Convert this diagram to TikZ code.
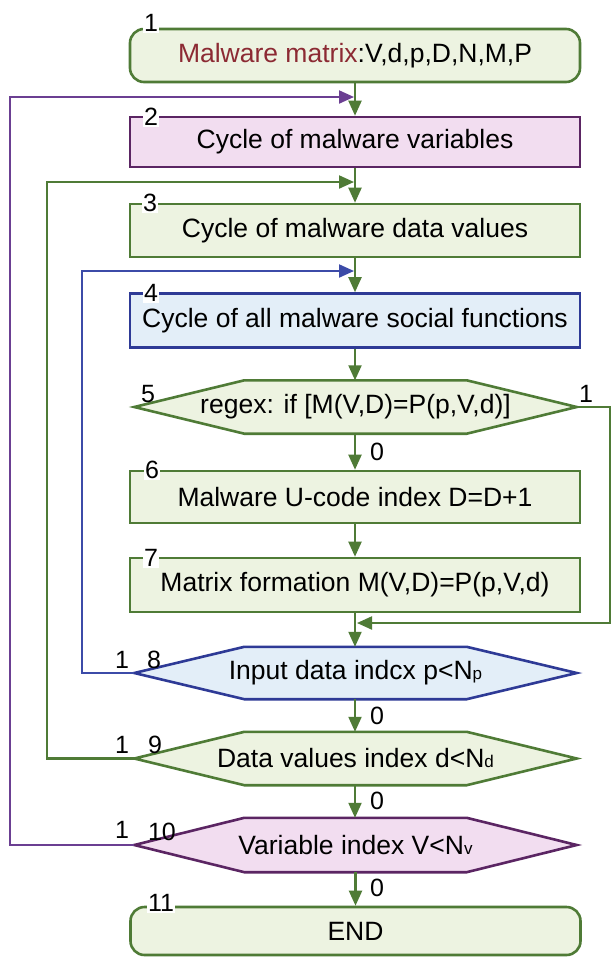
\documentclass[tikz,border=0pt]{standalone}
\usepackage{fontspec}
\setmainfont{Liberation Sans}
\usetikzlibrary{arrows.meta,calc,backgrounds}
\definecolor{gline}{HTML}{4F7B36}
\definecolor{gfill}{HTML}{EDF3E1}
\definecolor{pline}{HTML}{5B2563}
\definecolor{pfill}{HTML}{F2DDF0}
\definecolor{bline}{HTML}{2E3A96}
\definecolor{bfill}{HTML}{E3EEF8}
\definecolor{ploop}{HTML}{6B3F92}
\definecolor{bloop}{HTML}{3C4BA8}
\definecolor{mred}{HTML}{8C2A33}
\newcommand\subsm[1]{{\fontsize{17}{17}\selectfont #1}}
\begin{document}
\begin{tikzpicture}[x=1pt,y=-1pt,
  font=\fontsize{26.5}{30}\selectfont,
  box/.style={rectangle, minimum width=450pt, inner sep=0pt, line width=2.6pt},
  gbox/.style={box, draw=gline, fill=gfill},
  pbox/.style={box, draw=pline, fill=pfill},
  bbox/.style={box, draw=bline, fill=bfill},
  hexn/.style={rectangle, minimum width=442pt, inner sep=0pt},
  hexp/.style={insert path={(#1.west) -- ($(#1.north west)+(110,0)$) -- ($(#1.north east)+(-110,0)$) -- (#1.east) -- ($(#1.south east)+(-110,0)$) -- ($(#1.south west)+(110,0)$) -- cycle}},
  num/.style={font=\fontsize{25}{26}\selectfont, fill=white, inner sep=1pt},
  numh/.style={font=\fontsize{25}{26}\selectfont, inner sep=0pt},
  arr/.style={line width=2.1pt, -{Triangle[length=15pt,width=13pt]}},
  garr/.style={arr, draw=gline},
  parr/.style={arr, draw=ploop},
  barr/.style={arr, draw=bloop}
]
\useasboundingbox (0,0) rectangle (614,958);

% nodes
\node[gbox, rounded corners=14pt, minimum height=53pt] (n1) at (355,55.5) {\textcolor{mred}{Malware matrix}:V,d,p,D,N,M,P};
\node[pbox, minimum height=50pt] (n2) at (355,142) {Cycle of malware variables};
\node[gbox, minimum height=53pt] (n3) at (355,230.5) {Cycle of malware data values};
\node[bbox, minimum height=54pt] (n4) at (355,320.5) {Cycle of all malware social functions};
\node[hexn, minimum height=53pt] (h5) at (355.5,407) {regex: if [M(V,D)=P(p,V,d)]};
\node[gbox, minimum height=52pt] (n6) at (355,497) {Malware U-code index D=D+1};
\node[gbox, minimum height=54pt] (n7) at (355,585) {Matrix formation M(V,D)=P(p,V,d)};
\node[hexn, minimum height=52pt] (h8) at (355.5,673) {Input data indcx p<N\subsm{p}};
\node[hexn, minimum height=53pt] (h9) at (355.5,758.5) {Data values index d<N\subsm{d}};
\node[hexn, minimum height=54pt] (h10) at (355.5,845) {Variable index V<N\subsm{v}};
\node[gbox, rounded corners=14pt, minimum height=48pt] (n11) at (355.5,931) {END};

\begin{scope}[on background layer]
  \fill[white] (0,0) rectangle (614,958);
  \path[draw=gline, fill=gfill, line width=2.6pt, hexp=h5];
  \path[draw=bline, fill=bfill, line width=2.6pt, hexp=h8];
  \path[draw=gline, fill=gfill, line width=2.6pt, hexp=h9];
  \path[draw=pline, fill=pfill, line width=2.6pt, hexp=h10];
\end{scope}

% number labels
\node[num] (l1) at (151,23) {1};
\node[num] (l2) at (151,117) {2};
\node[num] (l3) at (150,203) {3};
\node[num] (l4) at (151,293) {4};
\node[numh] (l5) at (148,394) {5};
\node[numh] (l5r) at (586,394) {1};
\node[num] (l6) at (152,470) {6};
\node[num] (l7) at (151,558) {7};
\node[numh] (l8) at (154,660) {8};
\node[numh] (l8a) at (122,660) {1};
\node[numh] (l9) at (155,745) {9};
\node[numh] (l9a) at (122,745) {1};
\node[numh] (l10) at (162,832) {10};
\node[numh] (l10a) at (122,830) {1};
\node[num] (l11) at (161,903) {11};

% zero labels
\node[numh] (z5) at (377,452) {0};
\node[numh] (z8) at (377,716) {0};
\node[numh] (z9) at (377,801) {0};
\node[numh] (z10) at (377,888) {0};

% coordinates
\coordinate (cp) at (10,97);
\coordinate (tp) at (354,97);
\coordinate (cg) at (47,182);
\coordinate (tg) at (354,182);
\coordinate (cb) at (82,271);
\coordinate (tb) at (354,271);
\coordinate (cr) at (610,623);
\coordinate (tr) at (357,623);

% trunk
\draw[garr] (n1.south) -- (n2.north);
\draw[garr] (n2.south) -- (n3.north);
\draw[garr] (n3.south) -- (n4.north);
\draw[garr] (n4.south) -- (h5.north -| n4.south);
\draw[garr] (h5.south -| n6.north) -- (n6.north);
\draw[garr] (n6.south) -- (n7.north);
\draw[garr] (n7.south) -- (h8.north -| n7.south);
\draw[garr] (h8.south -| n7.south) -- (h9.north -| n7.south);
\draw[garr] (h9.south -| n7.south) -- (h10.north -| n7.south);
\draw[garr] (h10.south -| n11.north) -- (n11.north);

% loops
\draw[parr] (h10.west) -| (cp) -- (tp);
\draw[garr] (h9.west) -| (cg) -- (tg);
\draw[barr] (h8.west) -| (cb) -- (tb);
\draw[garr] (h5.east) -| (cr) -- (tr);
\end{tikzpicture}
\end{document}
